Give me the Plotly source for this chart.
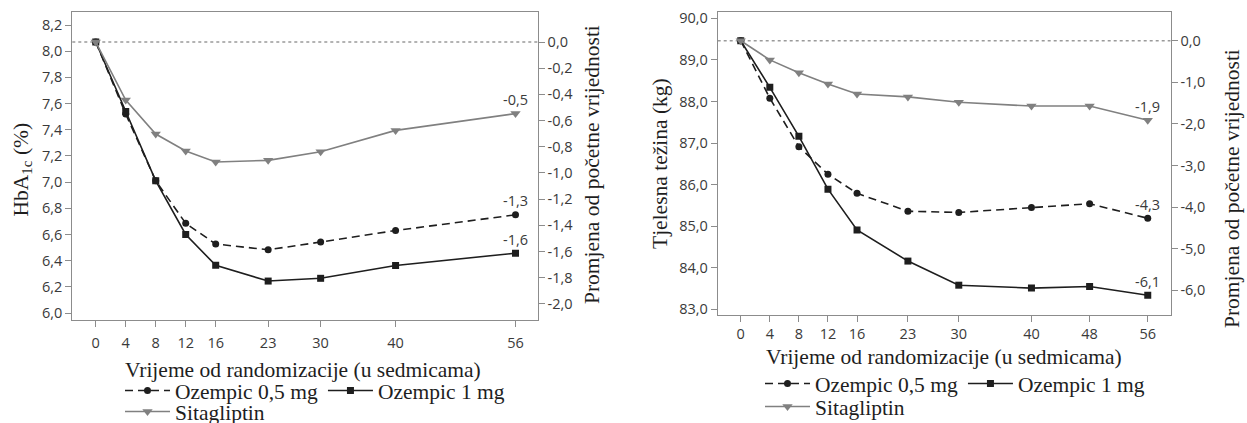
import plotly.graph_objects as go

# ---------------- data ----------------
weeks_a = [0, 4, 8, 12, 16, 23, 30, 40, 56]
hba_oz05 = [8.07, 7.52, 7.01, 6.685, 6.527, 6.483, 6.542, 6.63, 6.75]
hba_oz1 = [8.07, 7.54, 7.01, 6.60, 6.364, 6.244, 6.265, 6.363, 6.457]
hba_sita = [8.07, 7.627, 7.367, 7.237, 7.153, 7.166, 7.232, 7.395, 7.523]
hba_end_labels = ["-1,3", "-1,6", "-0,5"]

weeks_b = [0, 4, 8, 12, 16, 23, 30, 40, 48, 56]
wt_oz05 = [89.46, 88.08, 86.91, 86.25, 85.79, 85.36, 85.33, 85.45, 85.54, 85.19]
wt_oz1 = [89.46, 88.34, 87.16, 85.89, 84.91, 84.16, 83.58, 83.51, 83.55, 83.34]
wt_sita = [89.46, 89.00, 88.69, 88.42, 88.18, 88.11, 87.98, 87.89, 87.89, 87.55]
wt_end_labels = ["-4,3", "-6,1", "-1,9"]

series_names = ["Ozempic 0,5 mg", "Ozempic 1 mg", "Sitagliptin"]

hba_ticks = [6.0, 6.2, 6.4, 6.6, 6.8, 7.0, 7.2, 7.4, 7.6, 7.8, 8.0, 8.2]
hba_ticktext = ["6,0", "6,2", "6,4", "6,6", "6,8", "7,0", "7,2", "7,4", "7,6", "7,8", "8,0", "8,2"]
hba_chg_ticks = [0.0, -0.2, -0.4, -0.6, -0.8, -1.0, -1.2, -1.4, -1.6, -1.8, -2.0]
hba_chg_text = ["0,0", "-0,2", "-0,4", "-0,6", "-0,8", "-1,0", "-1,2", "-1,4", "-1,6", "-1,8", "-2,0"]

wt_ticks = [83, 84, 85, 86, 87, 88, 89, 90]
wt_ticktext = ["83,0", "84,0", "85,0", "86,0", "87,0", "88,0", "89,0", "90,0"]
wt_chg_ticks = [0, -1, -2, -3, -4, -5, -6]
wt_chg_text = ["0,0", "-1,0", "-2,0", "-3,0", "-4,0", "-5,0", "-6,0"]

# ---------------- styling ----------------
W, H = 1247, 423
SERIF = "Liberation Serif, Times New Roman, serif"
SANS = "Open Sans, Noto Sans, sans-serif"
AX = "#8c8c8c"
TXT = "#3a3a3a"
BLACK = "#1e1e1e"
GREY = "#808080"

def px(x):
    return x / W

def py(y):
    return 1 - y / H

styles = [
    dict(line=dict(color=BLACK, width=1.6, dash="8px,5px"), marker=dict(symbol="circle", size=7, color=BLACK)),
    dict(line=dict(color=BLACK, width=1.6), marker=dict(symbol="square", size=7, color=BLACK)),
    dict(line=dict(color=GREY, width=1.6), marker=dict(symbol="triangle-down", size=9, color=GREY)),
]

fig = go.Figure()

base_a = hba_oz05[0]
base_b = wt_oz05[0]

left_series = [hba_oz05, hba_oz1, hba_sita]
right_series = [wt_oz05, wt_oz1, wt_sita]
left_legends = ["legend", "legend", "legend2"]
right_legends = ["legend3", "legend3", "legend4"]

for i, ys in enumerate(left_series):
    fig.add_trace(go.Scatter(x=weeks_a, y=ys, mode="lines+markers", name=series_names[i],
                             xaxis="x", yaxis="y", legend=left_legends[i], **styles[i]))
for i, ys in enumerate(right_series):
    fig.add_trace(go.Scatter(x=weeks_b, y=ys, mode="lines+markers", name=series_names[i],
                             xaxis="x2", yaxis="y3", legend=right_legends[i], **styles[i]))

# ---------------- axes ----------------
common_x = dict(showline=True, linecolor=AX, linewidth=1, mirror=True, ticks="outside",
                ticklen=6, tickcolor=AX, showgrid=False, zeroline=False,
                tickfont=dict(family=SANS, size=14.5, color=TXT), automargin=False)
common_y = dict(showline=True, linecolor=AX, linewidth=1, ticks="outside", ticklen=6,
                tickcolor=AX, showgrid=False, zeroline=False,
                tickfont=dict(family=SANS, size=14.5, color=TXT), automargin=False)

ya_rng = [5.9465, 8.3016]
yb_rng = [82.863, 90.159]

fig.update_layout(
    xaxis=dict(domain=[px(72.3), px(537.7)], range=[-3.13, 58.96], anchor="y",
               tickvals=weeks_a, ticktext=[str(w) for w in weeks_a], ticklabelstandoff=4, **common_x),
    yaxis=dict(domain=[py(320), py(11.7)], range=ya_rng, anchor="x",
               tickvals=hba_ticks, ticktext=hba_ticktext, **common_y),
    yaxis2=dict(overlaying="y", anchor="x", side="right", range=[ya_rng[0] - base_a, ya_rng[1] - base_a],
                tickvals=hba_chg_ticks, ticktext=hba_chg_text, **common_y),
    xaxis2=dict(domain=[px(717.7), px(1170.5)], range=[-3.17, 59.13], anchor="y3",
                tickvals=weeks_b, ticktext=[str(w) for w in weeks_b], **common_x),
    yaxis3=dict(domain=[py(315), py(11.7)], range=yb_rng, anchor="x2",
                tickvals=wt_ticks, ticktext=wt_ticktext, **common_y),
    yaxis4=dict(overlaying="y3", anchor="x2", side="right", range=[yb_rng[0] - base_b, yb_rng[1] - base_b],
                tickvals=wt_chg_ticks, ticktext=wt_chg_text, **common_y),
)

# baseline dotted lines (zero change on the secondary axes)
for yref, xref in [("y2", "x domain"), ("y4", "x2 domain")]:
    fig.add_shape(type="line", xref=xref, yref=yref, x0=0, x1=1, y0=0, y1=0,
                  line=dict(color="#9a9a9a", width=1.5, dash="dot"), layer="below")

# ---------------- legends ----------------
leg_common = dict(orientation="h", xanchor="left", yanchor="top", bgcolor="rgba(0,0,0,0)",
                  font=dict(family=SERIF, size=21.5, color=BLACK), itemwidth=45,
                  borderwidth=0, tracegroupgap=0)
fig.update_layout(
    showlegend=True,
    legend=dict(x=px(120), y=py(370), **leg_common),
    legend2=dict(x=px(120), y=py(391), **leg_common),
    legend3=dict(x=px(760), y=py(363), **leg_common),
    legend4=dict(x=px(760), y=py(386), **leg_common),
)

# ---------------- annotations ----------------
ann = []
for ys, lab in zip(left_series, hba_end_labels):
    ann.append(dict(x=weeks_a[-1], y=ys[-1], xref="x", yref="y", text=lab, showarrow=False,
                    yshift=14, font=dict(family=SANS, size=14.5, color=TXT)))
for ys, lab in zip(right_series, wt_end_labels):
    ann.append(dict(x=weeks_b[-1], y=ys[-1], xref="x2", yref="y3", text=lab, showarrow=False,
                    yshift=14, font=dict(family=SANS, size=14.5, color=TXT)))

title_font = dict(family=SERIF, size=21.5, color=BLACK)
titles = [
    ("Vrijeme od randomizacije (u sedmicama)", 303, 370, 0),
    ("Vrijeme od randomizacije (u sedmicama)", 944, 357, 0),
    ("HbA<sub>1c</sub> (%)", 21.5, 170, -90),
    ("Promjena od početne vrijednosti", 592, 165, -90),
    ("Tjelesna težina (kg)", 660, 164, -90),
    ("Promjena od početne vrijednosti", 1232, 189, -90),
]
for t, x, y, ang in titles:
    ann.append(dict(x=px(x), y=py(y), xref="paper", yref="paper", text=t, showarrow=False,
                    textangle=ang, xanchor="center", yanchor="middle", font=title_font))

fig.update_layout(
    annotations=ann,
    width=W, height=H,
    margin=dict(l=0, r=0, t=0, b=0, pad=0, autoexpand=False),
    paper_bgcolor="white", plot_bgcolor="white",
    separators=",.",
)

fig.write_html("out.html", config={"displayModeBar": False},
               post_script="document.body.style.margin='0px';")
